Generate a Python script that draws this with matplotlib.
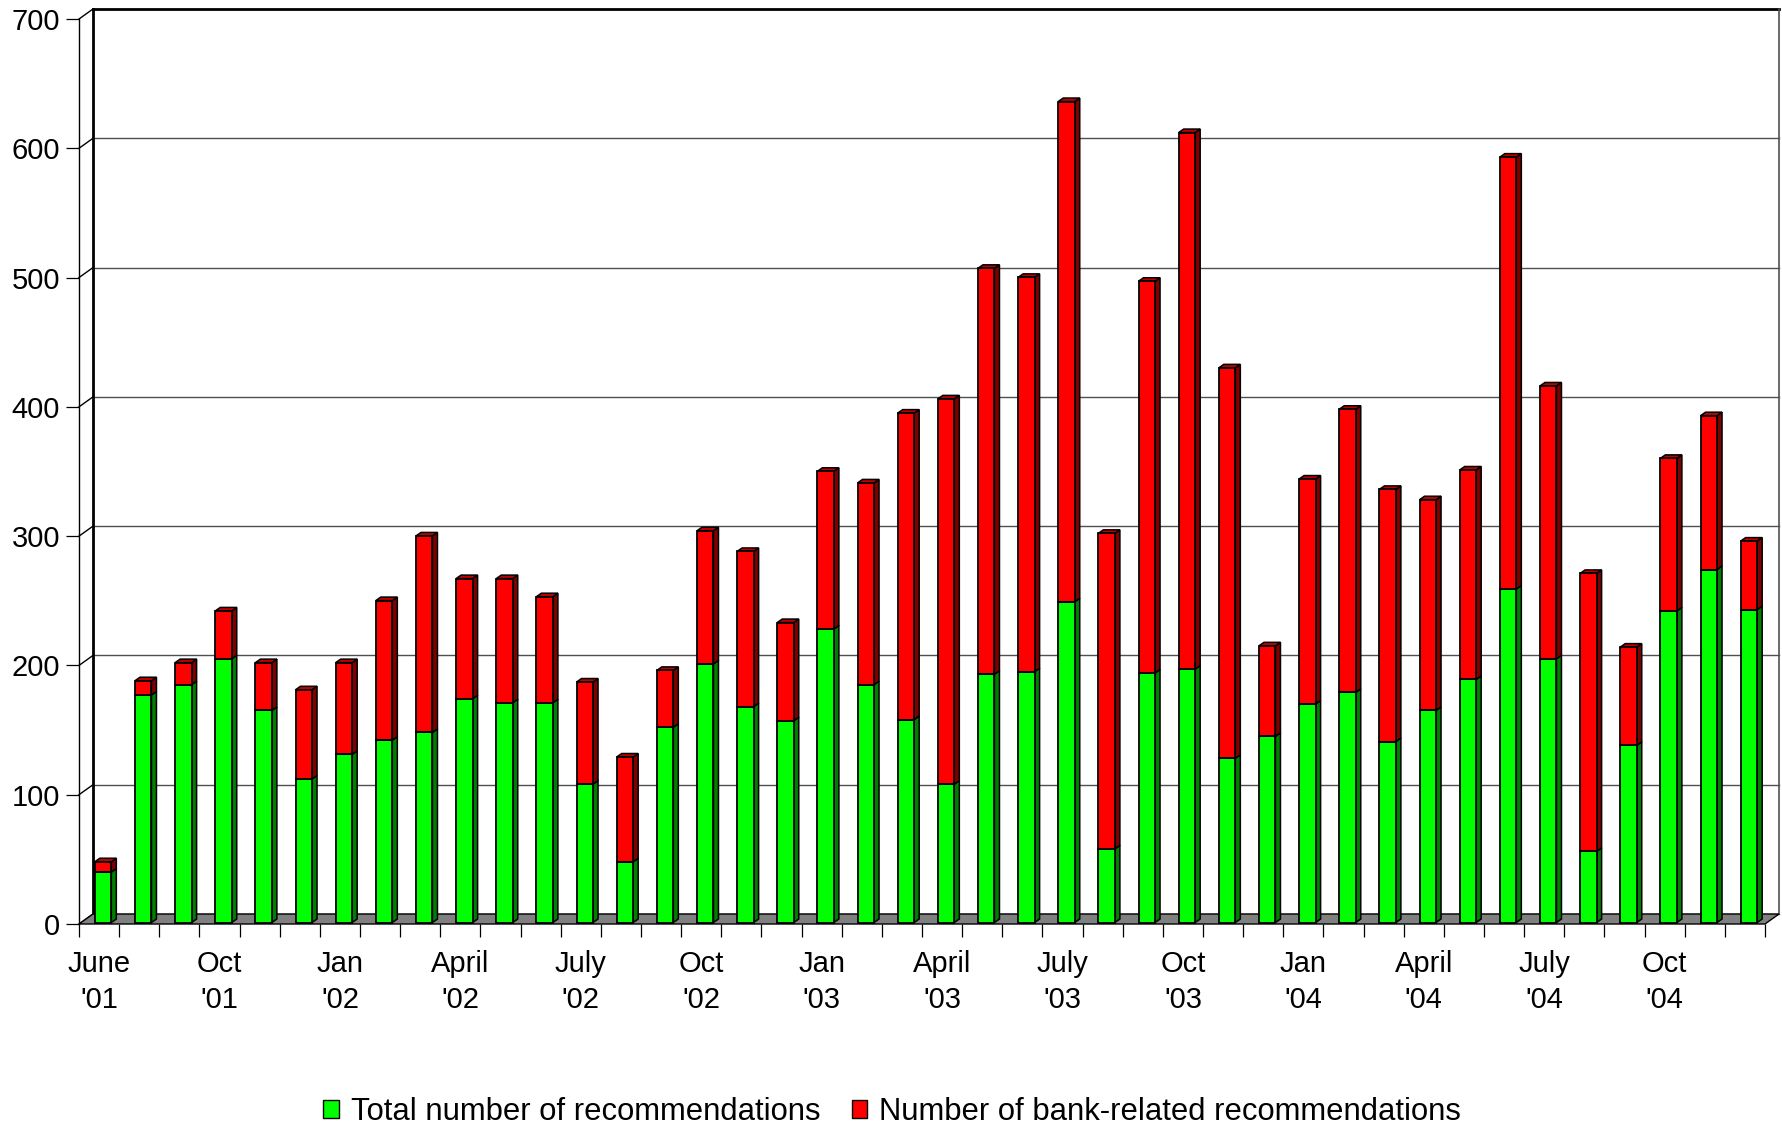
import numpy as np
import matplotlib
matplotlib.use("Agg")
import matplotlib.pyplot as plt
from matplotlib.patches import Polygon, Patch
from matplotlib.lines import Line2D
from matplotlib.transforms import offset_copy

# ---------------- data ----------------
months = ["Jun 01", "Jul 01", "Aug 01", "Sep 01", "Oct 01", "Nov 01", "Dec 01",
          "Jan 02", "Feb 02", "Mar 02", "Apr 02", "May 02", "Jun 02", "Jul 02",
          "Aug 02", "Sep 02", "Oct 02", "Nov 02", "Dec 02", "Jan 03", "Feb 03",
          "Mar 03", "Apr 03", "May 03", "Jun 03", "Jul 03", "Aug 03", "Sep 03",
          "Oct 03", "Nov 03", "Dec 03", "Jan 04", "Feb 04", "Mar 04", "Apr 04",
          "May 04", "Jun 04", "Jul 04", "Aug 04", "Sep 04", "Oct 04", "Nov 04"]
green_vals = [39, 176, 184, 204, 164, 111, 130, 141, 147, 173,
              170, 170, 107, 47, 151, 200, 167, 156, 227, 184,
              157, 107, 192, 194, 248, 57, 193, 196, 127, 144,
              169, 178, 140, 164, 188, 258, 204, 55, 137, 241,
              273, 242]
red_vals = [8, 11, 17, 37, 37, 69, 71, 108, 152, 93,
            96, 82, 79, 81, 44, 103, 120, 76, 122, 156,
            237, 298, 314, 305, 387, 244, 303, 415, 302, 70,
            174, 219, 195, 163, 162, 334, 211, 215, 76, 118,
            119, 53]
label_slots = [0, 3, 6, 9, 12, 15, 18, 21, 24, 27, 30, 33, 36, 39]
tick_labels = ["June\n'01", "Oct\n'01", "Jan\n'02", "April\n'02", "July\n'02",
               "Oct\n'02", "Jan\n'03", "April\n'03", "July\n'03", "Oct\n'03",
               "Jan\n'04", "April\n'04", "July\n'04", "Oct\n'04"]
y_ticks = [0, 100, 200, 300, 400, 500, 600, 700]
series_names = ["Total number of recommendations",
                "Number of bank-related recommendations"]

# ---------------- style ----------------
GREEN, GREEN_SIDE = "#00ff00", "#008000"
RED, RED_SIDE, RED_TOP = "#ff0000", "#800000", "#c00000"
FLOOR = "#808080"
FS = 21
FS_LEG = 22.3

plt.rcParams['font.family'] = ['Liberation Sans', 'DejaVu Sans']

W, H = 1782, 1130
fig = plt.figure(figsize=(W / 100, H / 100), dpi=100)
ax_left, ax_right = 79, 1765
ax_bottom, ax_top = 924, 19
ax = fig.add_axes([ax_left / W, (H - ax_bottom) / H,
                   (ax_right - ax_left) / W, (ax_bottom - ax_top) / H])
n = len(green_vals)
ax.set_xlim(-0.5, n - 0.5)
ax.set_ylim(0, 700)
ax.patch.set_visible(False)

px_slot = (ax_right - ax_left) / n
px_unit = (ax_bottom - ax_top) / 700.0
# wall / floor depth
ddx, ddy = 14 / px_slot, 10 / px_unit
# bar depth
bdx, bdy = 5 / px_slot, 3.5 / px_unit
bar_w = 16.5 / px_slot
bar_tr = offset_copy(ax.transData, fig=fig, x=4, y=1.5, units='dots')

x0, x1 = -0.5, n - 0.5
# back wall grid lines
for v in y_ticks:
    lw = 2.0 if v == 700 else 1.0
    col = "black" if v == 700 else "#505050"
    ax.add_line(Line2D([x0 + ddx, x1 + ddx], [v + ddy, v + ddy], color=col,
                       lw=lw * 0.72 * 1.4, clip_on=False, zorder=1))
    # diagonal from front axis to back wall
    ax.add_line(Line2D([x0, x0 + ddx], [v, v + ddy], color="black", lw=1.0,
                       clip_on=False, zorder=1))
# back wall verticals
ax.add_line(Line2D([x0 + ddx, x0 + ddx], [ddy, 700 + ddy], color="black",
                   lw=2.0, clip_on=False, zorder=1))
ax.add_line(Line2D([x1 + ddx, x1 + ddx], [ddy, 700 + ddy], color="#505050",
                   lw=1.2, clip_on=False, zorder=1))
# floor
floor = Polygon([(x0, 0), (x1, 0), (x1 + ddx, ddy), (x0 + ddx, ddy)],
                closed=True, facecolor=FLOOR, edgecolor="black", lw=1.0,
                clip_on=False, zorder=2)
ax.add_patch(floor)

# bars
xs = np.arange(n)
for seg_vals, bottoms, fc, side in [(green_vals, np.zeros(n), GREEN, GREEN_SIDE),
                                    (red_vals, np.array(green_vals), RED, RED_SIDE)]:
    ax.bar(xs, seg_vals, bottom=bottoms, width=bar_w, color=fc,
           edgecolor="black", linewidth=1.3, transform=bar_tr, zorder=4,
           clip_on=False)
    for x, h, b in zip(xs, seg_vals, bottoms):
        xr = x + bar_w / 2
        ax.add_patch(Polygon([(xr, b), (xr + bdx, b + bdy), (xr + bdx, b + h + bdy),
                              (xr, b + h)], closed=True, facecolor=side,
                             edgecolor="black", lw=1.1, transform=bar_tr,
                             zorder=3, clip_on=False))
tops = np.array(green_vals) + np.array(red_vals)
for x, t in zip(xs, tops):
    xl, xr = x - bar_w / 2, x + bar_w / 2
    ax.add_patch(Polygon([(xl, t), (xr, t), (xr + bdx, t + bdy), (xl + bdx, t + bdy)],
                         closed=True, facecolor=RED_TOP, edgecolor="black",
                         lw=1.1, transform=bar_tr, zorder=3, clip_on=False))

# axes: spines and ticks
for s in ["top", "right", "bottom"]:
    ax.spines[s].set_visible(False)
ax.spines["left"].set_linewidth(1.0)
ax.set_yticks(y_ticks)
ax.set_yticklabels([str(v) for v in y_ticks])
ax.tick_params(axis="y", length=9.4, width=0.9, pad=4.3, labelsize=FS)
ax.set_xticks(np.arange(-0.5, n, 1.0))
ax.set_xticklabels([])
ax.tick_params(axis="x", which="major", length=9.4, width=0.9, direction="out")
ax.set_xticks(label_slots, minor=True)
ax.set_xticklabels(tick_labels, minor=True, fontsize=FS, linespacing=1.38)
ax.tick_params(axis="x", which="minor", length=0, pad=18.4)

handles = [Patch(facecolor=GREEN, edgecolor="black", lw=1.0),
           Patch(facecolor=RED, edgecolor="black", lw=1.0)]
fig.legend(handles, series_names, loc="center", bbox_to_anchor=(0.5007, (H - 1112) / H),
           ncol=2, frameon=False, fontsize=FS_LEG, handlelength=0.5, handleheight=0.52,
           handletextpad=0.4, columnspacing=1.0, borderpad=0)

fig.savefig("out.png", dpi=100)
